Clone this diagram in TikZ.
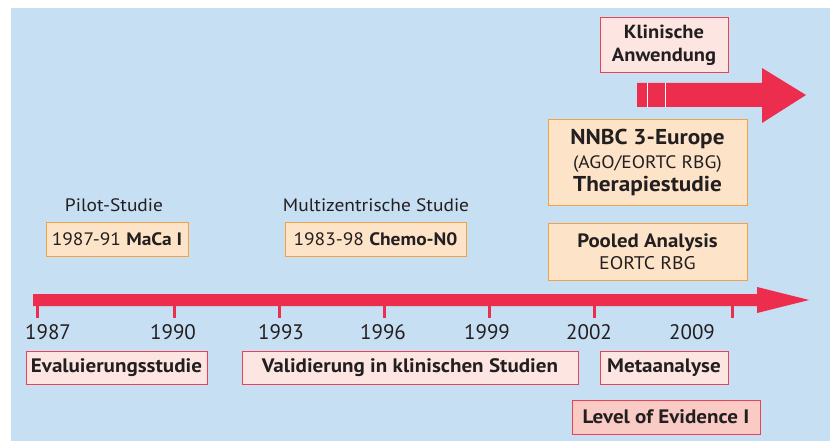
\documentclass[tikz,border=0pt]{standalone}
\usepackage{fontspec}
\setmainfont{PT Sans}[FakeStretch=1.08]
\newfontfamily\yearfont{PT Sans}
\definecolor{bgblue}{RGB}{199,223,242}
\definecolor{barred}{RGB}{237,45,78}
\definecolor{peach}{RGB}{253,228,200}
\definecolor{orangeln}{RGB}{244,162,70}
\definecolor{pinkfill}{RGB}{253,230,226}
\definecolor{pinkln}{RGB}{234,64,88}
\definecolor{rosefill}{RGB}{250,202,196}
\definecolor{txt}{RGB}{35,31,32}
\tikzset{
  pbox/.style={draw=pinkln, fill=pinkfill, line width=1pt, inner sep=0pt, text=txt, align=center, font=\fontsize{19.5}{23}\selectfont\bfseries},
  obox/.style={draw=orangeln, fill=peach, line width=1pt, inner sep=0pt, text=txt, align=center, font=\fontsize{18}{21}\selectfont},
  yearlbl/.style={text=txt, font=\yearfont\fontsize{21}{24}\selectfont, inner sep=0pt},
  studylbl/.style={text=txt, font=\fontsize{18}{21}\selectfont, inner sep=0pt},
}
\begin{document}
\begin{tikzpicture}[x=1pt,y=-1pt]
\useasboundingbox (0,0) rectangle (830,441);
\fill[bgblue] (11,8) rectangle (830,441);

% timeline arrow
\fill[barred] (33,294) -- (757,294) -- (757,287) -- (809,300) -- (757,313) -- (757,306) -- (33,306) -- cycle;
\foreach \x/\n in {37/a,174/b,279/c,384/d,489/e,594/f,732/g}{
  \fill[barred] (\x-1.5,305) rectangle (\x+1.5,318);
  \coordinate (tick\n) at (\x,318);
}
\node[yearlbl] (y1987) at (48,332) {1987};
\node[yearlbl] (y1990) at (173,332) {1990};
\node[yearlbl] (y1993) at (281,332) {1993};
\node[yearlbl] (y1996) at (383,332) {1996};
\node[yearlbl] (y1999) at (487,332) {1999};
\node[yearlbl] (y2002) at (589,332) {2002};
\node[yearlbl] (y2009) at (692,332) {2009};

% bottom boxes
\node[pbox, minimum width=181pt, minimum height=33pt] (eval) at (116.5,367.5) {Evaluierungsstudie};
\node[pbox, minimum width=336pt, minimum height=33pt] (valid) at (410,367.5) {Validierung in klinischen Studien};
\node[pbox, minimum width=128pt, minimum height=33pt] (meta) at (664,367.5) {Metaanalyse};
\node[pbox, fill=rosefill, minimum width=188pt, minimum height=34pt] (loe) at (666,417) {Level of Evidence I};

% studies
\node[studylbl] (pilot) at (114,205) {Pilot-Studie};
\node[obox, minimum width=142pt, minimum height=34pt] (maca) at (117,239) {1987-91 \textbf{MaCa I}};
\node[studylbl] (multi) at (376,205) {Multizentrische Studie};
\node[obox, minimum width=181pt, minimum height=34pt] (chemo) at (375.5,239) {1983-98 \textbf{Chemo-N0}};

\node[obox, minimum width=199pt, minimum height=85pt, font=\fontsize{18}{23.5}\selectfont] (nnbc) at (647.5,162.5) {%
  {\fontsize{21.5}{23.5}\selectfont\bfseries NNBC 3-Europe}\\
  {\fontsize{18}{23.5}\selectfont (AGO/EORTC RBG)}\\
  {\fontsize{21.5}{23.5}\selectfont\bfseries Therapiestudie}};
\node[obox, minimum width=199pt, minimum height=57pt, font=\fontsize{18}{22}\selectfont] (pooled) at (647.5,251.5) {%
  {\fontsize{19.3}{22}\selectfont\bfseries Pooled Analysis}\\
  {\fontsize{18.3}{22}\selectfont EORTC RBG}};

% clinical application
\node[pbox, minimum width=128pt, minimum height=55pt, font=\fontsize{19}{23}\selectfont\bfseries] (klin) at (664,45.5) {Klinische\\Anwendung};
\fill[barred] (637,83) -- (762,83) -- (762,68) -- (806,95) -- (762,123) -- (762,107) -- (637,107) -- cycle;
\draw[white, line width=1pt] (647,83) -- (647,107) (665,83) -- (665,107);
\end{tikzpicture}
\end{document}
